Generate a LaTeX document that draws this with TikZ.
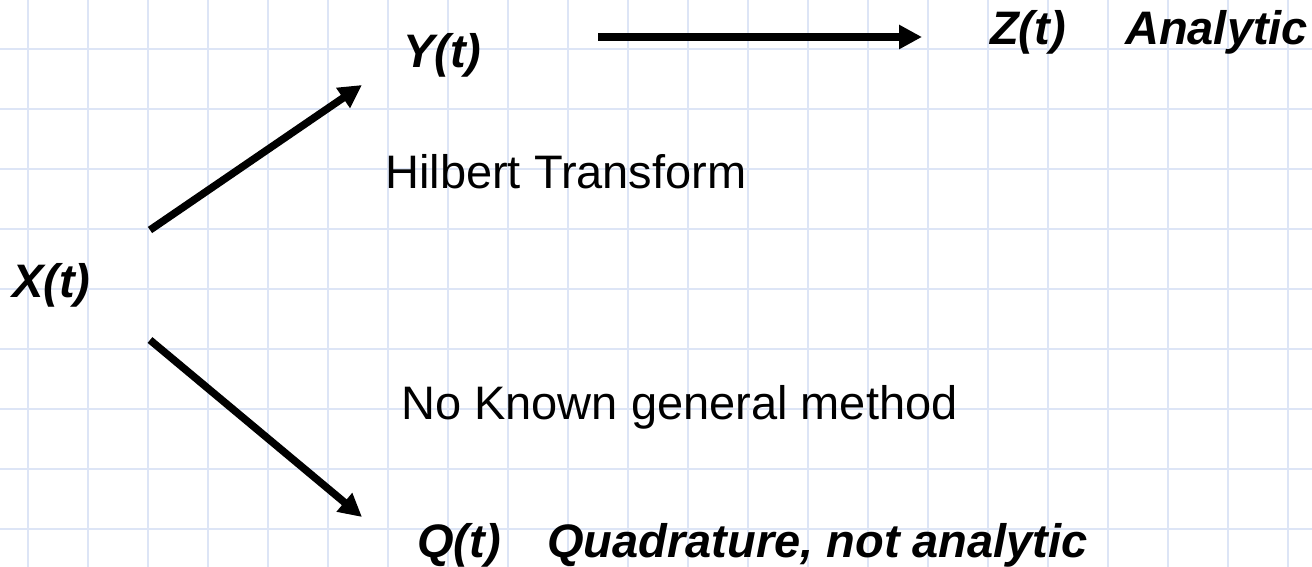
\documentclass[tikz,border=0pt]{standalone}
\usepackage{fontspec}
\setmainfont{Liberation Sans}
\usetikzlibrary{arrows.meta,positioning}

\definecolor{gridblue}{RGB}{221,229,246}

\begin{document}
\begin{tikzpicture}[
  x=1pt, y=-1pt,
  font=\fontsize{47}{56}\selectfont,
  sig/.style={inner sep=0pt, anchor=base west, font=\fontsize{47}{56}\selectfont\bfseries\itshape},
  txt/.style={inner sep=0pt, anchor=base west},
  gridln/.style={draw=gridblue, line width=2pt},
  arr/.style={-{Triangle[length=23pt,width=23pt]}, line width=7.5pt}]

\useasboundingbox (0,0) rectangle (1312,567);

% grid paper
\foreach \gx in {28,88,...,1288} \draw[gridln] (\gx,0) -- (\gx,567);
\foreach \gy in {49,109,...,529} \draw[gridln] (0,\gy) -- (1312,\gy);

% signals
\node[sig] (xt) at (12,297) {X(t)};
\node[sig] (yt) at (403,68) {Y(t)};
\node[sig] (zt) at (990,45) {Z(t)};
\node[sig] (zlab) at (1125,45) {Analytic};
\node[sig] (qt) at (417,557) {Q(t)};
\node[sig] (qlab) at (547,557) {Quadrature, not analytic};

% methods
\node[txt] (hilb) at (385,188) {Hilbert Transform};
\node[txt] (none) at (401,419) {No Known general method};

% arrow ends
\coordinate (up0) at (150,230);
\coordinate (up1) at (362,85);
\coordinate (dn0) at (150,340);
\coordinate (dn1) at (362,517);
\coordinate (hz0) at (598,37);
\coordinate (hz1) at (922,37);

\draw[arr] (up0) -- (up1);
\draw[arr] (dn0) -- (dn1);
\draw[arr] (hz0) -- (hz1);
\end{tikzpicture}
\end{document}
